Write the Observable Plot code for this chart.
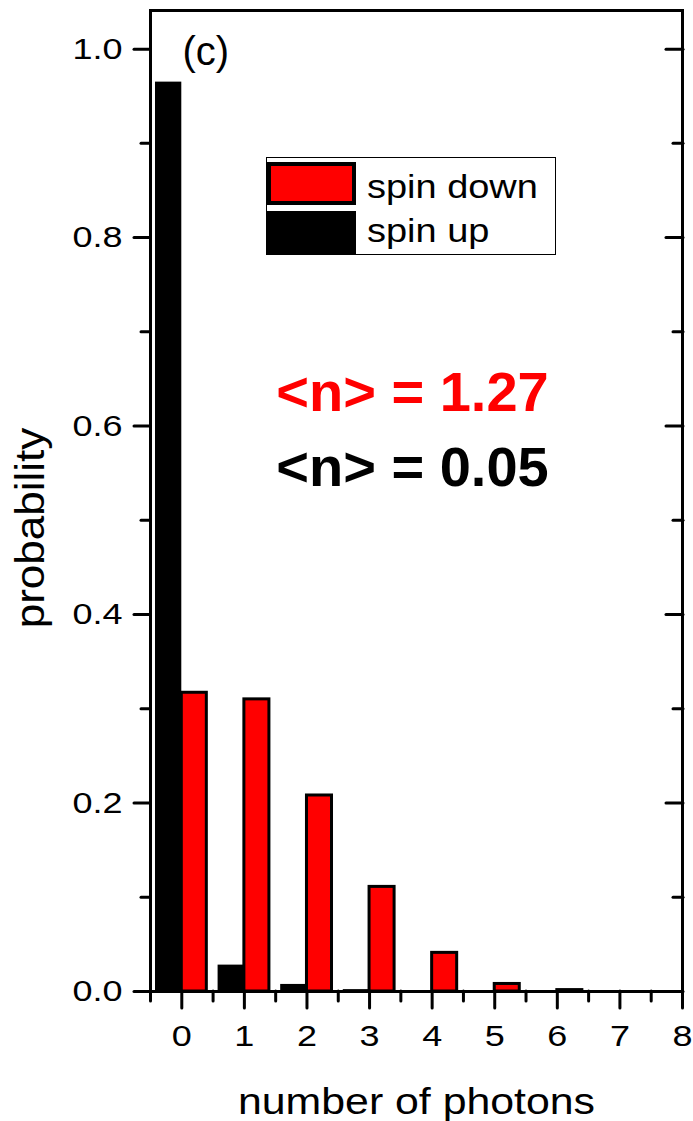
<!DOCTYPE html>
<html>
<head>
<meta charset="utf-8">
<script src="https://cdn.jsdelivr.net/npm/d3@7"></script>
<script src="https://cdn.jsdelivr.net/npm/@observablehq/plot@0.6"></script>
<style>
  body { margin: 0; background: #fff; }
  #chart { position: relative; width: 693px; height: 1121px; font-family: "Liberation Sans", Arial, sans-serif; }
  .legend { position: absolute; left: 266px; top: 157px; width: 290px; height: 98px;
            border: 1.5px solid #000; box-sizing: border-box; background: #fff; }
  .legend .sw { position: absolute; left: 0; width: 89px; box-sizing: border-box; }
  .legend .lab { position: absolute; left: 100px; font-size: 33px; line-height: 1;
                 transform: scaleX(1.15); transform-origin: left center; white-space: nowrap; }
</style>
</head>
<body>
<div id="chart"></div>
<script>
// Photon-number distribution for the two spin states
const photons  = [0, 1, 2, 3, 4, 5, 6];
const spinDown = [0.317, 0.310, 0.208, 0.111, 0.041, 0.008, 0.0015];
const spinUp   = [0.965, 0.028, 0.0075, 0.002, 0.0, 0.0, 0.0];
const meanDown = 1.27;
const meanUp   = 0.05;

const seriesNames  = ["spin down", "spin up"];
const seriesColors = ["red", "black"];

const xTicks      = [0, 1, 2, 3, 4, 5, 6, 7, 8];
const xMinorTicks = [-0.5, 0.5, 1.5, 2.5, 3.5, 4.5, 5.5, 6.5, 7.5];
const yTicks      = [0, 0.2, 0.4, 0.6, 0.8, 1.0];
const yMinorTicks = [0.1, 0.3, 0.5, 0.7, 0.9];

const xLabel = "number of photons";
const yLabel = "probability";
const panelTag = "(c)";

const barWidth = 0.4;
const downRows = photons.map((n, i) => ({n, p: spinDown[i]}));
const upRows   = photons.map((n, i) => ({n, p: spinUp[i]}));

const tickStyle = {strokeWidth: 3, strokeLinecap: "round"};

const plot = Plot.plot({
  width: 693,
  height: 1121,
  marginLeft: 150,
  marginRight: 11,
  marginTop: 10,
  marginBottom: 130,
  style: {fontFamily: "'Liberation Sans', Arial, sans-serif", background: "white", color: "black", overflow: "visible"},
  x: {domain: [-0.5, 8], label: null},
  y: {domain: [0, 1.041], label: null},
  marks: [
    // spin up bars sit just left of each photon number, spin down just right
    Plot.rectY(upRows, {x1: d => d.n - barWidth - 0.02, x2: "n", y1: 0, y2: "p", fill: seriesColors[1]}),
    Plot.rectY(downRows, {x1: "n", x2: d => d.n + barWidth, y1: 0, y2: "p",
      fill: seriesColors[0], stroke: "black", strokeWidth: 3}),
    Plot.frame({strokeWidth: 3}),

    // outward ticks on the left and bottom
    Plot.axisY(yTicks, {...tickStyle, tickSize: 16, tickPadding: 12, fontSize: 30,
      tickFormat: d3.format(".1f")}),
    Plot.axisY(yMinorTicks, {...tickStyle, tickSize: 9, fill: "none"}),
    Plot.axisX(xTicks, {...tickStyle, tickSize: 17, tickPadding: 16, fontSize: 30,
      tickFormat: d3.format("d")}),
    Plot.axisX(xMinorTicks, {...tickStyle, tickSize: 10, fill: "none"}),

    // inward ticks on the right edge
    Plot.axisY(yTicks, {...tickStyle, anchor: "right", tickSize: -17, fill: "none"}),
    Plot.axisY(yMinorTicks, {...tickStyle, anchor: "right", tickSize: -10, fill: "none"}),

    // axis titles
    Plot.text([xLabel], {frameAnchor: "bottom", lineAnchor: "middle", dy: 111, fontSize: 36, fill: "black"}),
    Plot.text([yLabel], {frameAnchor: "left", textAnchor: "middle", lineAnchor: "middle", rotate: -90,
      dx: -119, dy: 27, fontSize: 40, fill: "black"}),

    // panel tag and mean photon numbers
    Plot.text([panelTag], {frameAnchor: "top-left", textAnchor: "start", lineAnchor: "middle",
      dx: 32, dy: 42, fontSize: 40, fill: "black"}),
    Plot.text([`<n> = ${meanDown.toFixed(2)}`], {frameAnchor: "top", lineAnchor: "middle", dx: -4, dy: 383,
      fontSize: 56, fontWeight: "bold", fill: seriesColors[0]}),
    Plot.text([`<n> = ${meanUp.toFixed(2)}`], {frameAnchor: "top", lineAnchor: "middle", dx: -4, dy: 458,
      fontSize: 56, fontWeight: "bold", fill: seriesColors[1]})
  ]
});

// widen the regular-weight labels horizontally (along the text direction)
function widen(texts, sx) {
  texts.forEach(t => {
    const tr = t.getAttribute("transform") || "";
    t.setAttribute("transform", `${tr} scale(${sx},1)`);
  });
}
const allText = Array.from(plot.querySelectorAll("text"));
widen(Array.from(plot.querySelectorAll('g[aria-label="y-axis tick label"] text')), 1.2);
widen(Array.from(plot.querySelectorAll('g[aria-label="x-axis tick label"] text')), 1.2);
widen(allText.filter(t => t.textContent === xLabel), 1.19);
widen(allText.filter(t => t.textContent === yLabel), 1.1);

const chart = document.getElementById("chart");
chart.appendChild(plot);

// legend box inside the plot area
const legend = document.createElement("div");
legend.className = "legend";
const swatchBoxes = [
  {top: 3.5, height: 43.5, border: "4px solid #000"},
  {top: 52.5, height: 44, border: "none"}
];
const labelTops = [12, 56];
seriesNames.forEach((name, i) => {
  const sw = document.createElement("div");
  sw.className = "sw";
  sw.style.top = swatchBoxes[i].top + "px";
  sw.style.height = swatchBoxes[i].height + "px";
  sw.style.background = seriesColors[i];
  sw.style.border = swatchBoxes[i].border;
  legend.appendChild(sw);
  const lab = document.createElement("div");
  lab.className = "lab";
  lab.style.top = labelTops[i] + "px";
  lab.textContent = name;
  legend.appendChild(lab);
});
chart.appendChild(legend);
</script>
</body>
</html>
